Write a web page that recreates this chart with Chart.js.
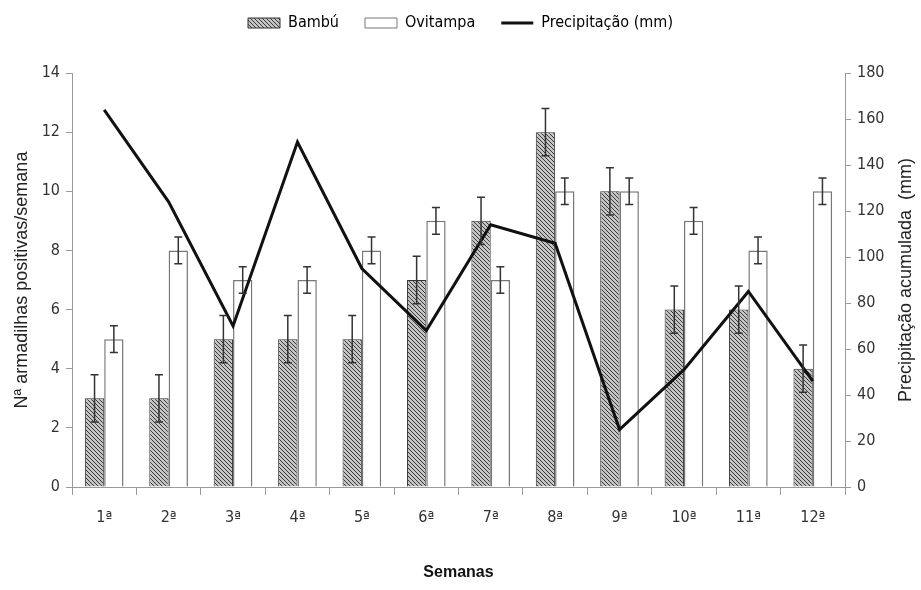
<!DOCTYPE html>
<html>
<head>
<meta charset="utf-8">
<script src="https://cdn.jsdelivr.net/npm/chart.js@4/dist/chart.umd.min.js"></script>
<style>
  html, body { margin: 0; padding: 0; background: #fff; }
  #wrap { width: 921px; height: 590px; }
</style>
</head>
<body>
<div id="wrap"><canvas id="chart" width="921" height="590"></canvas></div>
<script>
// data
const semanas = ["1ª", "2ª", "3ª", "4ª", "5ª", "6ª", "7ª", "8ª", "9ª", "10ª", "11ª", "12ª"];
const bambu = [3, 3, 5, 5, 5, 7, 9, 12, 10, 6, 6, 4];
const bambuErr = [0.8, 0.8, 0.8, 0.8, 0.8, 0.8, 0.8, 0.8, 0.8, 0.8, 0.8, 0.8];
const ovitampa = [5, 8, 7, 7, 8, 9, 7, 10, 10, 9, 8, 10];
const ovitampaErr = [0.45, 0.45, 0.45, 0.45, 0.45, 0.45, 0.45, 0.45, 0.45, 0.45, 0.45, 0.45];
const precipitacao = [164, 124, 70, 150, 95, 68, 114, 106, 25, 51, 85, 46];
const leftTicks = [0, 2, 4, 6, 8, 10, 12, 14];
const rightTicks = [0, 20, 40, 60, 80, 100, 120, 140, 160, 180];

const narrow = "'Liberation Sans Narrow', 'DejaVu Sans Condensed', 'Liberation Sans', sans-serif";
const axisColor = "#9a9a9a";

function hatch() {
    let c = document.createElement("canvas");
    c.width = 4;
    c.height = 4;
    let g = c.getContext("2d");
    g.fillStyle = "#c4c4c4";
    g.fillRect(0, 0, 4, 4);
    g.strokeStyle = "#3a3a3a";
    g.lineWidth = 1;
    g.beginPath();
    g.moveTo(0, 0); g.lineTo(4, 4);
    g.moveTo(-1, 3); g.lineTo(1, 5);
    g.moveTo(3, -1); g.lineTo(5, 1);
    g.stroke();
    return g.createPattern(c, "repeat");
}
const bambuFill = hatch();

// error bars drawn through the y scale
const errorBars = {
    id: "errorBars",
    afterDatasetsDraw(chart) {
        let ctx = chart.ctx;
        let y = chart.scales.y;
        chart.data.datasets.forEach((ds, i) => {
            if (!ds.errors) return;
            let meta = chart.getDatasetMeta(i);
            ctx.save();
            ctx.strokeStyle = "#333";
            ctx.lineWidth = 1.5;
            meta.data.forEach((bar, j) => {
                let top = y.getPixelForValue(ds.data[j] + ds.errors[j]);
                let bot = y.getPixelForValue(ds.data[j] - ds.errors[j]);
                ctx.beginPath();
                ctx.moveTo(bar.x, top); ctx.lineTo(bar.x, bot);
                ctx.moveTo(bar.x - 4, top); ctx.lineTo(bar.x + 4, top);
                ctx.moveTo(bar.x - 4, bot); ctx.lineTo(bar.x + 4, bot);
                ctx.stroke();
            });
            ctx.restore();
        });
    }
};

// leave more room under the legend
const legendGap = {
    id: "legendGap",
    beforeLayout(chart) {
        let lg = chart.legend;
        if (!lg || lg._gapPatched) return;
        let fit = lg.fit;
        lg.fit = function () {
            fit.call(this);
            this.height += 32;
        };
        lg._gapPatched = true;
    }
};

// right axis title reads bottom to top, like the left one
const rightTitle = {
    id: "rightTitle",
    afterDraw(chart) {
        let ctx = chart.ctx;
        let a = chart.chartArea;
        ctx.save();
        ctx.translate(906, (a.top + a.bottom) / 2);
        ctx.rotate(-Math.PI / 2);
        ctx.font = "18px 'Liberation Sans', Arial, sans-serif";
        ctx.fillStyle = "#222";
        ctx.textAlign = "center";
        ctx.textBaseline = "middle";
        ctx.fillText("Precipitação acumulada  (mm)", 0, 0);
        ctx.restore();
    }
};

new Chart(document.getElementById("chart"), {
    data: {
        labels: semanas,
        datasets: [
            {
                type: "bar",
                label: "Bambú",
                data: bambu,
                errors: bambuErr,
                backgroundColor: bambuFill,
                borderColor: "#333",
                borderWidth: 1,
                yAxisID: "y",
                order: 1
            },
            {
                type: "bar",
                label: "Ovitampa",
                data: ovitampa,
                errors: ovitampaErr,
                backgroundColor: "#fff",
                borderColor: "#777",
                borderWidth: 1.5,
                yAxisID: "y",
                order: 1
            },
            {
                type: "line",
                label: "Precipitação (mm)",
                data: precipitacao,
                borderColor: "#111",
                backgroundColor: "#111",
                borderWidth: 3,
                pointRadius: 0,
                tension: 0,
                yAxisID: "y1",
                order: 0
            }
        ]
    },
    options: {
        responsive: false,
        animation: false,
        layout: { padding: { top: -11 } },
        datasets: { bar: { categoryPercentage: 0.6, barPercentage: 1 } },
        plugins: {
            tooltip: { enabled: false },
            legend: {
                position: "top",
                labels: {
                    usePointStyle: true,
                    pointStyleWidth: 32,
                    boxHeight: 10,
                    padding: 26,
                    color: "#222",
                    font: { family: narrow, size: 16 },
                    generateLabels(chart) {
                        return chart.data.datasets.map((ds, i) => ({
                            text: ds.label,
                            fillStyle: ds.backgroundColor,
                            strokeStyle: ds.borderColor,
                            lineWidth: ds.type === "line" ? 3 : 1,
                            pointStyle: ds.type === "line" ? "line" : "rect",
                            hidden: false,
                            datasetIndex: i
                        }));
                    }
                }
            }
        },
        scales: {
            x: {
                grid: { drawOnChartArea: false, drawTicks: true, tickLength: 8, color: axisColor, offset: true },
                border: { color: axisColor },
                ticks: { color: "#333", font: { family: narrow, size: 16 }, padding: 13 },
                title: {
                    display: true,
                    text: "Semanas",
                    color: "#111",
                    font: { family: "'Liberation Sans', Arial, sans-serif", size: 16, weight: "bold" },
                    padding: { top: 4, bottom: 8 }
                },
                afterFit(scale) { scale.height = 103; }
            },
            y: {
                position: "left",
                min: 0,
                max: 14,
                afterBuildTicks(scale) { scale.ticks = leftTicks.map(v => ({ value: v })); },
                grid: { drawOnChartArea: false, tickLength: 6, color: axisColor },
                border: { color: axisColor },
                ticks: { color: "#333", font: { family: narrow, size: 16 }, padding: 6 },
                title: {
                    display: true,
                    text: "Nª armadilhas positivas/semana",
                    color: "#222",
                    font: { family: "'Liberation Sans', Arial, sans-serif", size: 18 },
                    padding: { top: 11, bottom: 0 }
                },
                afterFit(scale) { scale.width = 72; }
            },
            y1: {
                position: "right",
                min: 0,
                max: 180,
                afterBuildTicks(scale) { scale.ticks = rightTicks.map(v => ({ value: v })); },
                grid: { drawOnChartArea: false, tickLength: 6, color: axisColor },
                border: { color: axisColor },
                ticks: { color: "#333", font: { family: narrow, size: 16 }, padding: 6 },
                afterFit(scale) { scale.width = 76; }
            }
        }
    },
    plugins: [errorBars, legendGap, rightTitle]
});
</script>
</body>
</html>
